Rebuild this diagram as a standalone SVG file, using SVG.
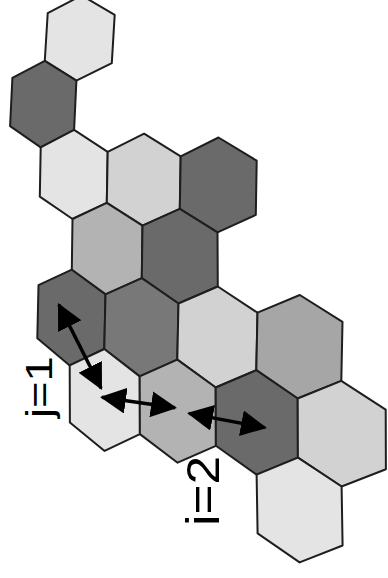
<svg xmlns="http://www.w3.org/2000/svg" width="388" height="578" viewBox="0 0 388 578">
<style>
.hex{stroke:#1e1e1e;stroke-width:2;stroke-linejoin:round}
.l1{fill:#e4e4e4}
.l2{fill:#d2d2d2}
.m1{fill:#b3b3b3}
.m2{fill:#a6a6a6}
.d1{fill:#6a6a6a}
.d2{fill:#787878}
.arrow{stroke:#000;stroke-width:3.5;fill:none;marker-start:url(#ah);marker-end:url(#ah)}
.lbl{font-family:"Liberation Sans",Arial,sans-serif;fill:#000}
</style>
<defs>
<marker id="ah" viewBox="0 0 26 26" refX="24" refY="13" markerWidth="26" markerHeight="26" markerUnits="userSpaceOnUse" orient="auto-start-reverse">
<path d="M0,0 L26,13 L0,26 Z" fill="#000"/>
</marker>
</defs>
<rect width="388" height="578" fill="#fff"/>
<g id="hex-A1"><polygon class="hex l1" points="81.6,-4.6 114.7,14.9 111.8,63.1 76.4,80.6 44.8,60.8 47.7,13.2"/></g>
<g id="hex-B1"><polygon class="hex d1" points="44.8,60.8 76.4,80.6 74.1,129.9 40.7,147.4 10.1,126.1 12.4,77.9"/></g>
<g id="hex-C1"><polygon class="hex l1" points="74.1,129.9 107.7,151.8 106.8,202.8 72.5,219 39.8,196.7 40.7,147.4"/></g>
<g id="hex-C2"><polygon class="hex l2" points="144.1,133.7 180.7,156.3 179.8,208.8 142.5,225.7 106.8,202.8 107.7,151.8"/></g>
<g id="hex-C3"><polygon class="hex d1" points="218.5,137.5 256.7,160.7 255.8,214.9 217.5,232.4 179.8,208.8 180.7,156.3"/></g>
<g id="hex-D1"><polygon class="hex m1" points="106.8,202.8 142.5,225.7 141.8,278.1 105.5,294.4 71.8,269.7 72.5,219"/></g>
<g id="hex-D2"><polygon class="hex d1" points="179.8,208.8 217.5,232.4 217.8,286.5 178.5,303.5 141.8,278.1 142.5,225.7"/></g>
<g id="hex-E1"><polygon class="hex d1" points="71.8,269.7 105.5,294.4 104.3,349 69.7,365.4 37.3,338.3 38.5,285.2"/></g>
<g id="hex-E2"><polygon class="hex d2" points="141.8,278.1 178.5,303.5 177.3,359.6 139.7,376.4 104.3,349 105.5,294.4"/></g>
<g id="hex-E3"><polygon class="hex l2" points="217.8,286.5 257.5,312.7 256.3,370.2 215.7,387.5 177.3,359.6 178.5,303.5"/></g>
<g id="hex-E4"><polygon class="hex m2" points="299.8,295 342.5,321.9 341.3,380.9 297.7,398.5 256.3,370.2 257.5,312.7"/></g>
<g id="hex-F1"><polygon class="hex l1" points="104.3,349 139.7,376.4 139.9,434.1 104.6,450.9 69.9,422.4 69.7,365.4"/></g>
<g id="hex-F2"><polygon class="hex m1" points="177.3,359.6 215.7,387.5 215.9,445.8 177.6,462.7 139.9,434.1 139.7,376.4"/></g>
<g id="hex-F3"><polygon class="hex d1" points="256.3,370.2 297.7,398.5 297.9,457.6 256.6,474.6 215.9,445.8 215.7,387.5"/></g>
<g id="hex-F4"><polygon class="hex l2" points="341.3,380.9 385.7,409.6 385.9,469.3 341.6,486.5 297.9,457.6 297.7,398.5"/></g>
<g id="hex-G1"><polygon class="hex l1" points="297.9,457.6 341.6,486.5 342.6,545.5 299.6,562.4 257.6,533.4 256.6,474.6"/></g>
<g id="connectors">
<line class="arrow" x1="58.9" y1="304.8" x2="101.1" y2="388.2"/>
<line class="arrow" x1="102" y1="397.3" x2="175" y2="407.7"/>
<line class="arrow" x1="189" y1="413.4" x2="265" y2="427.6"/>
</g>
<g id="labels">
<text class="lbl" font-size="37" transform="translate(52,418) scale(1,1.22) rotate(-90)">j=1</text>
<text class="lbl" font-size="46" transform="translate(219,526) scale(1,1.12) rotate(-90)">i=2</text>
</g>
</svg>
